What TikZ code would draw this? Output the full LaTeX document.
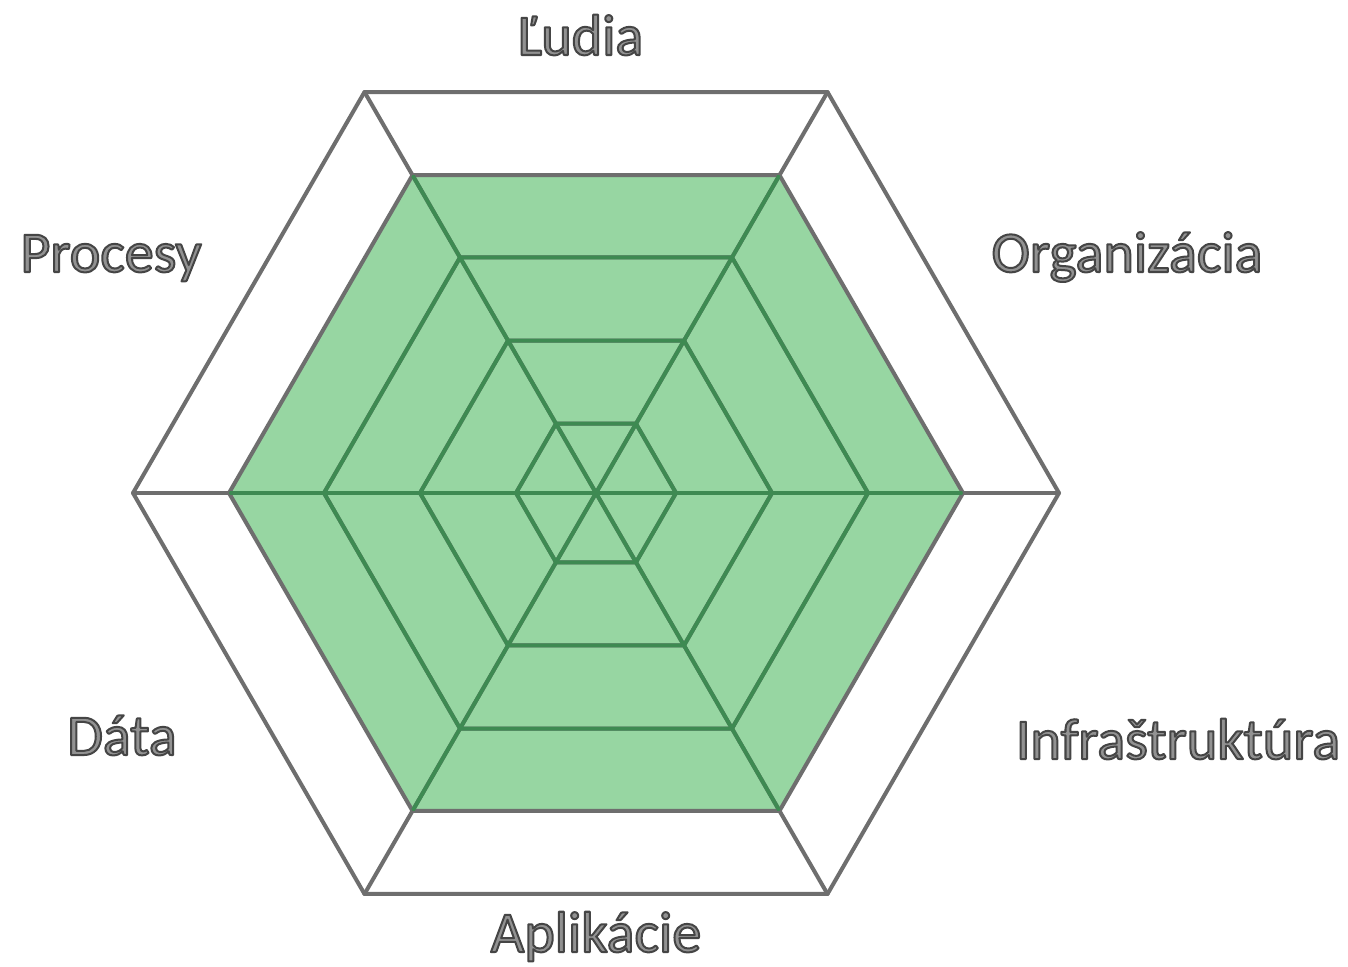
\documentclass[tikz,border=0pt]{standalone}
\usepackage{fontspec}
\setmainfont{Carlito}
\usetikzlibrary{calc}
\definecolor{gfill}{HTML}{97D6A2}
\definecolor{gline}{HTML}{3E8A52}
\definecolor{gridc}{HTML}{6E6E6E}
\definecolor{txtfill}{HTML}{929292}
\tikzset{
  lbltxt/.style={font=\fontsize{58}{60}\selectfont, inner sep=0pt, anchor=base},
  gridline/.style={line width=4pt, line join=round, line cap=round},
}
\newcommand\outlined[1]{{\color{txtfill}\special{pdf:code 0.27 0.27 0.27 RG 2 w 1 j 2 Tr}#1\special{pdf:code 0 Tr}}}
\begin{document}
\begin{tikzpicture}[x=1pt,y=-1pt]
\useasboundingbox[fill=white] (0,0) rectangle (1348,966);
\coordinate (c) at (596,493);
\foreach \i/\a in {0/0,1/60,2/120,3/180,4/240,5/300}{
  \coordinate (v\i) at ($(c)+(\a:463)$);
}
% green data area
\fill[gfill] ($(c)+(0:367)$) \foreach \a in {60,120,...,300}{ -- ($(c)+(\a:367)$) } -- cycle;
% grid in grey
\begin{scope}[gridc, gridline]
  \foreach \r in {80,176,272,367,463}{
    \draw ($(c)+(0:\r)$) \foreach \a in {60,120,...,300}{ -- ($(c)+(\a:\r)$) } -- cycle;
  }
  \foreach \i in {0,...,5}{ \draw (c) -- (v\i); }
\end{scope}
% grid over green area
\begin{scope}
  \clip ($(c)+(0:367)$) \foreach \a in {60,120,...,300}{ -- ($(c)+(\a:367)$) } -- cycle;
  \begin{scope}[gline, gridline]
    \foreach \r in {80,176,272}{
      \draw ($(c)+(0:\r)$) \foreach \a in {60,120,...,300}{ -- ($(c)+(\a:\r)$) } -- cycle;
    }
    \foreach \i in {0,...,5}{ \draw (c) -- (v\i); }
  \end{scope}
\end{scope}
% labels
\node[lbltxt] (ludia) at (580,55) {\outlined{Ľudia}};
\node[lbltxt] (org) at (1127,272) {\outlined{Organizácia}};
\node[lbltxt] (infra) at (1178,759) {\outlined{Infraštruktúra}};
\node[lbltxt] (apl) at (596,952) {\outlined{Aplikácie}};
\node[lbltxt] (data) at (122,755) {\outlined{Dáta}};
\node[lbltxt] (proc) at (111,272) {\outlined{Procesy}};
\end{tikzpicture}
\end{document}
